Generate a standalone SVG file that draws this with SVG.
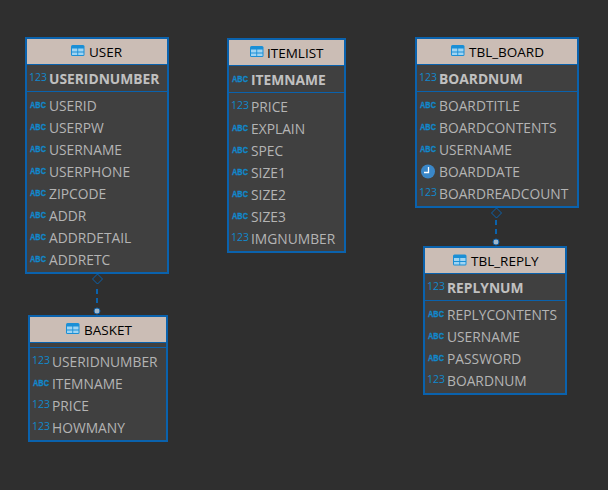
<svg xmlns="http://www.w3.org/2000/svg" xmlns:xlink="http://www.w3.org/1999/xlink" width="608" height="490" viewBox="0 0 608 490">
<style>
text{font-family:"Open Sans","Noto Sans","Liberation Sans",sans-serif}
.box{fill:#404040;stroke:#0a62ad;stroke-width:2}
.head{fill:#cbbdb5}
.sep{stroke:#0a62ad;stroke-width:1}
.t{font-size:13.500px;fill:#000}
.f{font-size:13.800px;fill:#b4b4b4}
.k{font-size:13.800px;font-weight:700;fill:#c0c0c0}
.n{font-size:10.500px;fill:#1188cc}
.a{font-family:"Liberation Sans",sans-serif;font-size:9.500px;font-weight:700;fill:#1188cc;stroke:#1188cc;stroke-width:.3px}
.conn{fill:none;stroke:#0a62ad;stroke-width:2;stroke-dasharray:5 4}
.dia{fill:none;stroke:#0a62ad;stroke-width:1}
.dot{fill:#9fb5c9;stroke:#0a62ad;stroke-width:1}
</style>
<defs>
<g id="tbl"><rect x="0" y="0" width="13.500" height="11" rx="1.500" fill="#1a8fd6"/><rect x="1" y="3.500" width="5.300" height="3" fill="#9fd4f2"/><rect x="7.200" y="3.500" width="5.300" height="3" fill="#9fd4f2"/><rect x="1" y="7.500" width="5.300" height="2.500" fill="#9fd4f2"/><rect x="7.200" y="7.500" width="5.300" height="2.500" fill="#9fd4f2"/></g>
</defs>
<rect width="608" height="490" fill="#2f2f2f"/>
<g id="connectors">
<path class="conn" d="M97 289V304"/>
<path class="dia" d="M97.500 274l5 5l-5 5l-5-5z"/>
<circle class="dot" cx="97" cy="311" r="3"/>
<path class="conn" d="M496 220V236"/>
<path class="dia" d="M496.500 208l5 5l-5 5l-5-5z"/>
<circle class="dot" cx="496" cy="242" r="3"/>
</g>
<g id="user">
<rect class="box" x="26" y="38" width="142" height="235"/>
<rect class="head" x="27" y="39" width="140" height="25"/>
<use xlink:href="#tbl" x="71" y="45"/>
<text class="t" x="89" y="57">USER</text>
<line class="sep" x1="27" y1="64.500" x2="167" y2="64.500"/>
<line class="sep" x1="27" y1="91.500" x2="167" y2="91.500"/>
<text class="n" x="29" y="81">123</text><text class="k" x="49" y="84">USERIDNUMBER</text>
<text class="a" x="30" y="108" textLength="16" lengthAdjust="spacingAndGlyphs">ABC</text><text class="f" x="49" y="111">USERID</text>
<text class="a" x="30" y="130" textLength="16" lengthAdjust="spacingAndGlyphs">ABC</text><text class="f" x="49" y="133">USERPW</text>
<text class="a" x="30" y="152" textLength="16" lengthAdjust="spacingAndGlyphs">ABC</text><text class="f" x="49" y="155">USERNAME</text>
<text class="a" x="30" y="174" textLength="16" lengthAdjust="spacingAndGlyphs">ABC</text><text class="f" x="49" y="177">USERPHONE</text>
<text class="a" x="30" y="196" textLength="16" lengthAdjust="spacingAndGlyphs">ABC</text><text class="f" x="49" y="199">ZIPCODE</text>
<text class="a" x="30" y="218" textLength="16" lengthAdjust="spacingAndGlyphs">ABC</text><text class="f" x="49" y="221">ADDR</text>
<text class="a" x="30" y="240" textLength="16" lengthAdjust="spacingAndGlyphs">ABC</text><text class="f" x="49" y="243">ADDRDETAIL</text>
<text class="a" x="30" y="262" textLength="16" lengthAdjust="spacingAndGlyphs">ABC</text><text class="f" x="49" y="265">ADDRETC</text>
</g>
<g id="itemlist">
<rect class="box" x="228" y="39" width="117" height="213"/>
<rect class="head" x="229" y="40" width="115" height="25"/>
<use xlink:href="#tbl" x="250" y="46"/>
<text class="t" x="267" y="58">ITEMLIST</text>
<line class="sep" x1="229" y1="65.500" x2="344" y2="65.500"/>
<line class="sep" x1="229" y1="92.500" x2="344" y2="92.500"/>
<text class="a" x="232" y="82" textLength="16" lengthAdjust="spacingAndGlyphs">ABC</text><text class="k" x="251" y="85">ITEMNAME</text>
<text class="n" x="231" y="109">123</text><text class="f" x="251" y="112">PRICE</text>
<text class="a" x="232" y="131" textLength="16" lengthAdjust="spacingAndGlyphs">ABC</text><text class="f" x="251" y="134">EXPLAIN</text>
<text class="a" x="232" y="153" textLength="16" lengthAdjust="spacingAndGlyphs">ABC</text><text class="f" x="251" y="156">SPEC</text>
<text class="a" x="232" y="175" textLength="16" lengthAdjust="spacingAndGlyphs">ABC</text><text class="f" x="251" y="178">SIZE1</text>
<text class="a" x="232" y="197" textLength="16" lengthAdjust="spacingAndGlyphs">ABC</text><text class="f" x="251" y="200">SIZE2</text>
<text class="a" x="232" y="219" textLength="16" lengthAdjust="spacingAndGlyphs">ABC</text><text class="f" x="251" y="222">SIZE3</text>
<text class="n" x="231" y="241">123</text><text class="f" x="251" y="244">IMGNUMBER</text>
</g>
<g id="tbl_board">
<rect class="box" x="416" y="38" width="162" height="169"/>
<rect class="head" x="417" y="39" width="160" height="25"/>
<use xlink:href="#tbl" x="451" y="45"/>
<text class="t" x="469" y="57">TBL_BOARD</text>
<line class="sep" x1="417" y1="64.500" x2="577" y2="64.500"/>
<line class="sep" x1="417" y1="91.500" x2="577" y2="91.500"/>
<text class="n" x="419" y="81">123</text><text class="k" x="439" y="84">BOARDNUM</text>
<text class="a" x="420" y="108" textLength="16" lengthAdjust="spacingAndGlyphs">ABC</text><text class="f" x="439" y="111">BOARDTITLE</text>
<text class="a" x="420" y="130" textLength="16" lengthAdjust="spacingAndGlyphs">ABC</text><text class="f" x="439" y="133">BOARDCONTENTS</text>
<text class="a" x="420" y="152" textLength="16" lengthAdjust="spacingAndGlyphs">ABC</text><text class="f" x="439" y="155">USERNAME</text>
<circle cx="428" cy="171.500" r="7" fill="#3a87c8"/><path d="M428.500 167V172.500H424" fill="none" stroke="#fff" stroke-width="1.300"/>
<text class="f" x="439" y="177">BOARDDATE</text>
<text class="n" x="419" y="196">123</text><text class="f" x="439" y="199">BOARDREADCOUNT</text>
</g>
<g id="tbl_reply">
<rect class="box" x="424" y="247" width="142" height="147"/>
<rect class="head" x="425" y="248" width="140" height="25"/>
<use xlink:href="#tbl" x="453" y="254.500"/>
<text class="t" x="471" y="266">TBL_REPLY</text>
<line class="sep" x1="425" y1="273.500" x2="565" y2="273.500"/>
<line class="sep" x1="425" y1="300.500" x2="565" y2="300.500"/>
<text class="n" x="427" y="290">123</text><text class="k" x="447" y="293">REPLYNUM</text>
<text class="a" x="428" y="317" textLength="16" lengthAdjust="spacingAndGlyphs">ABC</text><text class="f" x="447" y="320">REPLYCONTENTS</text>
<text class="a" x="428" y="339" textLength="16" lengthAdjust="spacingAndGlyphs">ABC</text><text class="f" x="447" y="342">USERNAME</text>
<text class="a" x="428" y="361" textLength="16" lengthAdjust="spacingAndGlyphs">ABC</text><text class="f" x="447" y="364">PASSWORD</text>
<text class="n" x="427" y="383">123</text><text class="f" x="447" y="386">BOARDNUM</text>
</g>
<g id="basket">
<rect class="box" x="29" y="316" width="138" height="125"/>
<rect class="head" x="30" y="317" width="136" height="25"/>
<use xlink:href="#tbl" x="66" y="323"/>
<text class="t" x="84" y="335">BASKET</text>
<line class="sep" x1="30" y1="342.500" x2="166" y2="342.500"/>
<line class="sep" x1="30" y1="347.500" x2="166" y2="347.500"/>
<text class="n" x="32" y="364">123</text><text class="f" x="52" y="367">USERIDNUMBER</text>
<text class="a" x="33" y="386" textLength="16" lengthAdjust="spacingAndGlyphs">ABC</text><text class="f" x="52" y="389">ITEMNAME</text>
<text class="n" x="32" y="408">123</text><text class="f" x="52" y="411">PRICE</text>
<text class="n" x="32" y="430">123</text><text class="f" x="52" y="433">HOWMANY</text>
</g>
</svg>
